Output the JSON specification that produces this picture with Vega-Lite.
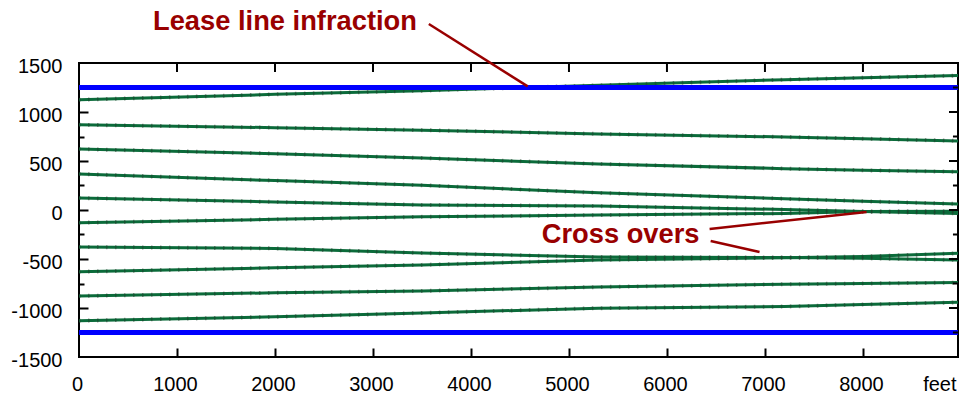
{
  "$schema": "https://vega.github.io/schema/vega-lite/v6.json",
  "width": 879,
  "height": 294,
  "autosize": {"type": "none"},
  "padding": {"left": 79, "top": 63, "right": 3, "bottom": 41},
  "background": "white",
  "config": {
    "view": {"stroke": "black", "strokeWidth": 2},
    "axis": {"grid": false, "domain": false, "title": null, "labelFont": "Liberation Sans", "labelFontSize": 20, "labelColor": "black", "tickColor": "black", "tickWidth": 2}
  },
  "datasets": {
    "lines": [
      {"s": "L1", "x": 0, "y": 1125}, {"s": "L1", "x": 2000, "y": 1180}, {"s": "L1", "x": 3500, "y": 1218}, {"s": "L1", "x": 5300, "y": 1272}, {"s": "L1", "x": 7200, "y": 1330}, {"s": "L1", "x": 8000, "y": 1350}, {"s": "L1", "x": 8970, "y": 1372},
      {"s": "L2", "x": 0, "y": 870}, {"s": "L2", "x": 2000, "y": 840}, {"s": "L2", "x": 3500, "y": 815}, {"s": "L2", "x": 5300, "y": 776}, {"s": "L2", "x": 7200, "y": 745}, {"s": "L2", "x": 8000, "y": 728}, {"s": "L2", "x": 8970, "y": 705},
      {"s": "L3", "x": 0, "y": 622}, {"s": "L3", "x": 2000, "y": 575}, {"s": "L3", "x": 3500, "y": 530}, {"s": "L3", "x": 5300, "y": 470}, {"s": "L3", "x": 7200, "y": 422}, {"s": "L3", "x": 8000, "y": 405}, {"s": "L3", "x": 8970, "y": 390},
      {"s": "L4", "x": 0, "y": 368}, {"s": "L4", "x": 2000, "y": 300}, {"s": "L4", "x": 3500, "y": 253}, {"s": "L4", "x": 5300, "y": 175}, {"s": "L4", "x": 7200, "y": 115}, {"s": "L4", "x": 8000, "y": 90}, {"s": "L4", "x": 8970, "y": 61},
      {"s": "L5", "x": 0, "y": 122}, {"s": "L5", "x": 2000, "y": 82}, {"s": "L5", "x": 3500, "y": 52}, {"s": "L5", "x": 5300, "y": 40}, {"s": "L5", "x": 7200, "y": 5}, {"s": "L5", "x": 8000, "y": -15}, {"s": "L5", "x": 8970, "y": -35},
      {"s": "L6", "x": 0, "y": -130}, {"s": "L6", "x": 2000, "y": -95}, {"s": "L6", "x": 3500, "y": -70}, {"s": "L6", "x": 5300, "y": -52}, {"s": "L6", "x": 7200, "y": -35}, {"s": "L6", "x": 8000, "y": -15}, {"s": "L6", "x": 8970, "y": -12},
      {"s": "L7", "x": 0, "y": -377}, {"s": "L7", "x": 2000, "y": -392}, {"s": "L7", "x": 3500, "y": -440}, {"s": "L7", "x": 5300, "y": -480}, {"s": "L7", "x": 7200, "y": -485}, {"s": "L7", "x": 8000, "y": -492}, {"s": "L7", "x": 8970, "y": -510},
      {"s": "L8", "x": 0, "y": -630}, {"s": "L8", "x": 2000, "y": -590}, {"s": "L8", "x": 3500, "y": -560}, {"s": "L8", "x": 5300, "y": -510}, {"s": "L8", "x": 7200, "y": -487}, {"s": "L8", "x": 8000, "y": -475}, {"s": "L8", "x": 8970, "y": -442},
      {"s": "L9", "x": 0, "y": -877}, {"s": "L9", "x": 2000, "y": -845}, {"s": "L9", "x": 3500, "y": -826}, {"s": "L9", "x": 5300, "y": -786}, {"s": "L9", "x": 7200, "y": -758}, {"s": "L9", "x": 8000, "y": -750}, {"s": "L9", "x": 8970, "y": -741},
      {"s": "L10", "x": 0, "y": -1130}, {"s": "L10", "x": 2000, "y": -1090}, {"s": "L10", "x": 3500, "y": -1051}, {"s": "L10", "x": 5300, "y": -1002}, {"s": "L10", "x": 7200, "y": -985}, {"s": "L10", "x": 8000, "y": -965}, {"s": "L10", "x": 8970, "y": -942}
    ],
    "leases": [{"y": 1250}, {"y": -1250}],
    "ymajor": [{"t": -1000}, {"t": -500}, {"t": 0}, {"t": 500}, {"t": 1000}],
    "yminor": [{"t": -1250}, {"t": -750}, {"t": -250}, {"t": 250}, {"t": 750}, {"t": 1250}],
    "xmajor": [{"t": 1000}, {"t": 2000}, {"t": 3000}, {"t": 4000}, {"t": 5000}, {"t": 6000}, {"t": 7000}, {"t": 8000}],
    "one": [{}]
  },
  "layer": [
    {
      "data": {"name": "lines"},
      "mark": {"type": "line", "color": "#0b6b3a", "strokeWidth": 3},
      "encoding": {
        "x": {"field": "x", "type": "quantitative", "scale": {"domain": [0, 8970], "nice": false, "zero": false},
              "axis": {"orient": "bottom", "values": [0, 1000, 2000, 3000, 4000, 5000, 6000, 7000, 8000, 8800], "ticks": false, "labelPadding": 17, "labelOffset": -2, "labelExpr": "datum.value > 8500 ? 'feet' : '' + datum.value", "labelFlush": false, "labelOverlap": false}},
        "y": {"field": "y", "type": "quantitative", "scale": {"domain": [-1500, 1500], "nice": false, "zero": false},
              "axis": {"orient": "left", "values": [-1500, -1000, -500, 0, 500, 1000, 1500], "ticks": false, "labelPadding": 17, "labelOffset": 3, "labelExpr": "'' + datum.value", "labelOverlap": false, "labelFlush": false}},
        "detail": {"field": "s"}
      }
    },
    {
      "data": {"name": "lines"},
      "mark": {"type": "line", "color": "#1f3a2a", "strokeWidth": 4, "strokeDash": [1.5, 7.5], "opacity": 0.5},
      "encoding": {
        "x": {"field": "x", "type": "quantitative", "scale": {"domain": [0, 8970], "nice": false, "zero": false},
              "axis": {"orient": "bottom", "values": [1000, 2000, 3000, 4000, 5000, 6000, 7000, 8000], "labels": false, "tickSize": 9, "offset": -9}},
        "y": {"field": "y", "type": "quantitative", "scale": {"domain": [-1500, 1500], "nice": false, "zero": false},
              "axis": {"orient": "left", "values": [-1000, -500, 0, 500, 1000], "labels": false, "tickSize": 9, "offset": -9}},
        "detail": {"field": "s"}
      }
    },
    {
      "data": {"name": "leases"},
      "mark": {"type": "rule", "color": "#0000ff", "strokeWidth": 5},
      "encoding": {
        "y": {"field": "y", "type": "quantitative", "scale": {"domain": [-1500, 1500], "nice": false, "zero": false},
              "axis": {"orient": "left", "values": [-1250, -750, -250, 250, 750, 1250], "labels": false, "tickSize": 5, "offset": -5}}
      }
    },
    {
      "data": {"name": "ymajor"},
      "mark": {"type": "tick", "color": "black", "orient": "horizontal", "size": 9, "thickness": 2, "opacity": 1},
      "encoding": {
        "y": {"field": "t", "type": "quantitative", "scale": {"domain": [-1500, 1500], "nice": false, "zero": false}, "axis": null},
        "x": {"datum": 8924, "type": "quantitative", "scale": {"domain": [0, 8970], "nice": false, "zero": false}, "axis": null}
      }
    },
    {
      "data": {"name": "yminor"},
      "mark": {"type": "tick", "color": "black", "orient": "horizontal", "size": 5, "thickness": 2, "opacity": 1},
      "encoding": {
        "y": {"field": "t", "type": "quantitative", "scale": {"domain": [-1500, 1500], "nice": false, "zero": false}, "axis": null},
        "x": {"datum": 8944, "type": "quantitative", "scale": {"domain": [0, 8970], "nice": false, "zero": false}, "axis": null}
      }
    },
    {
      "data": {"name": "xmajor"},
      "mark": {"type": "tick", "color": "black", "orient": "vertical", "size": 9, "thickness": 2, "opacity": 1},
      "encoding": {
        "x": {"field": "t", "type": "quantitative", "scale": {"domain": [0, 8970], "nice": false, "zero": false}, "axis": null},
        "y": {"datum": 1454, "type": "quantitative", "scale": {"domain": [-1500, 1500], "nice": false, "zero": false}, "axis": null}
      }
    },
    {
      "data": {"name": "one"},
      "mark": {"type": "text", "text": "Lease line infraction", "font": "Liberation Sans", "fontWeight": "bold", "fontSize": 27.3, "color": "#990000", "align": "left", "baseline": "alphabetic"},
      "encoding": {
        "x": {"datum": 755, "type": "quantitative", "scale": {"domain": [0, 8970], "nice": false, "zero": false}, "axis": null},
        "y": {"datum": 1837, "type": "quantitative", "scale": {"domain": [-1500, 1500], "nice": false, "zero": false}, "axis": null}
      }
    },
    {
      "data": {"name": "one"},
      "mark": {"type": "text", "text": "Cross overs", "font": "Liberation Sans", "fontWeight": "bold", "fontSize": 27.3, "color": "#990000", "align": "left", "baseline": "alphabetic"},
      "encoding": {
        "x": {"datum": 4722, "type": "quantitative", "scale": {"domain": [0, 8970], "nice": false, "zero": false}, "axis": null},
        "y": {"datum": -337, "type": "quantitative", "scale": {"domain": [-1500, 1500], "nice": false, "zero": false}, "axis": null}
      }
    },
    {
      "data": {"name": "one"},
      "mark": {"type": "rule", "color": "#990000", "strokeWidth": 2.5},
      "encoding": {
        "x": {"datum": 3570, "type": "quantitative", "scale": {"domain": [0, 8970], "nice": false, "zero": false}, "axis": null},
        "y": {"datum": 1898, "type": "quantitative", "scale": {"domain": [-1500, 1500], "nice": false, "zero": false}, "axis": null},
        "x2": {"datum": 4579},
        "y2": {"datum": 1262}
      }
    },
    {
      "data": {"name": "one"},
      "mark": {"type": "rule", "color": "#990000", "strokeWidth": 2.5},
      "encoding": {
        "x": {"datum": 6435, "type": "quantitative", "scale": {"domain": [0, 8970], "nice": false, "zero": false}, "axis": null},
        "y": {"datum": -194, "type": "quantitative", "scale": {"domain": [-1500, 1500], "nice": false, "zero": false}, "axis": null},
        "x2": {"datum": 8037},
        "y2": {"datum": -20}
      }
    },
    {
      "data": {"name": "one"},
      "mark": {"type": "rule", "color": "#990000", "strokeWidth": 2.5},
      "encoding": {
        "x": {"datum": 6446, "type": "quantitative", "scale": {"domain": [0, 8970], "nice": false, "zero": false}, "axis": null},
        "y": {"datum": -316, "type": "quantitative", "scale": {"domain": [-1500, 1500], "nice": false, "zero": false}, "axis": null},
        "x2": {"datum": 6945},
        "y2": {"datum": -429}
      }
    }
  ],
  "resolve": {"axis": {"x": "independent", "y": "independent"}}
}
